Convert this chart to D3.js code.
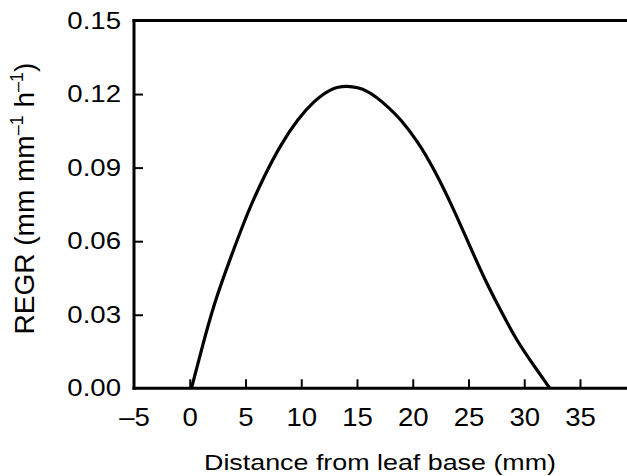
<!DOCTYPE html>
<html>
<head>
<meta charset="utf-8">
<script src="https://cdn.jsdelivr.net/npm/d3@7"></script>
<style>
  body { margin: 0; background: #fff; }
  text { font-family: "Liberation Sans", Arial, sans-serif; fill: #000; }
</style>
</head>
<body>
<div id="chart"></div>
<script>
// distance from leaf base (mm) and REGR (mm mm-1 h-1)
let distance = [0.15, 1.05, 2.23, 3.73, 5.22, 6.70, 8.19, 9.69, 11.17, 12.66, 14.1, 15.94, 17.73, 18.92, 20.41, 21.9, 23.39, 24.88, 26.36, 27.86, 29.35, 30.83, 32.3]
let regr = [0, 0.0156, 0.0345, 0.054, 0.0716, 0.0865, 0.0992, 0.1094, 0.1169, 0.1217, 0.1231, 0.121, 0.1149, 0.1094, 0.1005, 0.0891, 0.0755, 0.0605, 0.0456, 0.032, 0.0197, 0.0095, 0]
let xTicks = [-5, 0, 5, 10, 15, 20, 25, 30, 35]
let yTicks = [0, 0.03, 0.06, 0.09, 0.12, 0.15]

let width = 627
let height = 476

let svg = d3.select("#chart")
    .append("svg")
    .attr("width", width)
    .attr("height", height)

let xScale = d3.scaleLinear()
    .domain([-5, 35])
    .range([134, 580])
let yScale = d3.scaleLinear()
    .domain([0, 0.15])
    .range([388.3, 20.5])

let xMax = xScale.invert(width + 2)

// stretch text a little wider, like the original figure
function widen(sel, k){
    sel.each(function(){
        let len = this.getComputedTextLength()
        d3.select(this)
            .attr("textLength", len * k)
            .attr("lengthAdjust", "spacingAndGlyphs")
    })
}

// frame: left and top lines (plot runs off the right edge)
svg.append("line")
    .attr("x1", xScale(-5)).attr("x2", xScale(-5))
    .attr("y1", yScale(0.15) - 1.5).attr("y2", yScale(0) + 1.5)
    .style("stroke", "#000").style("stroke-width", 3)
svg.append("line")
    .attr("x1", xScale(-5) - 1.5).attr("x2", xScale(xMax))
    .attr("y1", yScale(0.15)).attr("y2", yScale(0.15))
    .style("stroke", "#000").style("stroke-width", 3)

let axisX = d3.axisBottom(xScale)
    .tickValues(xTicks)
    .tickSizeInner(-9)
    .tickSizeOuter(0)
    .tickPadding(20)
    .tickFormat(d => d < 0 ? "\u2013" + Math.abs(d) : d)
let gx = svg.append("g")
    .attr("transform", "translate(0," + yScale(0) + ")")
    .call(axisX)
gx.select(".domain").remove()
gx.append("line")
    .attr("x1", xScale(-5) - 1.5).attr("x2", xScale(xMax))
    .style("stroke", "#000").style("stroke-width", 3)
gx.selectAll(".tick line").style("stroke-width", 2).filter(d => d == -5).remove()
gx.selectAll("text").style("font-size", "25.5px").attr("fill", "#000").call(widen, 1.08)

let axisY = d3.axisLeft(yScale)
    .tickValues(yTicks)
    .tickSizeInner(-9)
    .tickSizeOuter(0)
    .tickPadding(13)
    .tickFormat(d3.format(".2f"))
let gy = svg.append("g")
    .attr("transform", "translate(" + xScale(-5) + ",0)")
    .call(axisY)
gy.select(".domain").remove()
gy.selectAll(".tick line").style("stroke-width", 2).filter(d => d == 0 || d == 0.15).remove()
gy.selectAll("text").style("font-size", "24px").attr("fill", "#000").call(widen, 1.15)

// curve
let line = d3.line()
    .x(d => xScale(d[0]))
    .y(d => yScale(d[1]))
    .curve(d3.curveNatural)
svg.append("path")
    .datum(distance.map((d, i) => [d, regr[i]]))
    .attr("d", line)
    .style("fill", "none")
    .style("stroke", "#000")
    .style("stroke-width", 3.2)

// axis titles
svg.append("text")
    .attr("x", 380)
    .attr("y", 469.5)
    .style("text-anchor", "middle")
    .style("font-size", "22.5px")
    .text("Distance from leaf base (mm)")
    .attr("textLength", 352)
    .attr("lengthAdjust", "spacingAndGlyphs")

let ytitle = svg.append("text")
    .attr("transform", "translate(33.5,198.5) rotate(-90)")
    .style("text-anchor", "middle")
    .style("font-size", "28px")
ytitle.append("tspan").text("REGR (mm mm")
ytitle.append("tspan").text("\u20131").attr("dy", -11).style("font-size", "18px")
ytitle.append("tspan").text(" h").attr("dy", 11)
ytitle.append("tspan").text("\u20131").attr("dy", -11).style("font-size", "18px")
ytitle.append("tspan").text(")").attr("dy", 11)
</script>
</body>
</html>
